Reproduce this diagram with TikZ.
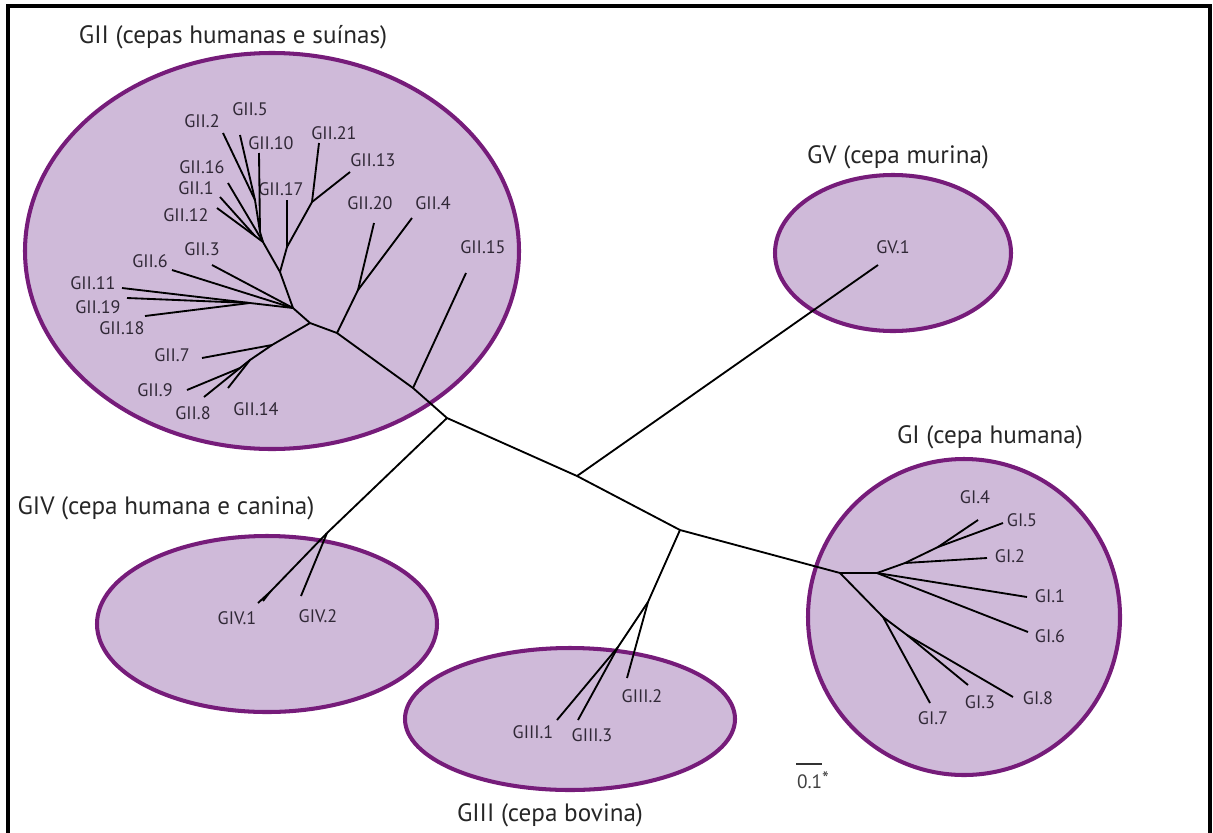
\documentclass[tikz,border=0pt]{standalone}
\usepackage{fontspec}
\setmainfont{PT Sans}
\usepackage{tikz}

\definecolor{grpfill}{RGB}{207,186,217}
\definecolor{grpline}{RGB}{118,28,122}
\definecolor{lbltext}{RGB}{48,40,54}

\tikzset{
  grupo/.style={draw=grpline, line width=2.3pt, fill=grpfill},
  ramo/.style={line width=1.05pt, black},
  folha/.style={font=\fontsize{10.3}{12}\selectfont, text=lbltext, inner sep=0pt},
  titulo/.style={font=\fontsize{14.3}{17}\selectfont, text=black!85, inner sep=0pt},
}

\begin{document}
\begin{tikzpicture}[x=0.02cm, y=-0.02cm]
        \useasboundingbox (0,0) rectangle (1213,832);                 %
        \draw [line width=2pt] (8,850) -- (8,6) -- (1210,6) -- (1210,850); %moldura

        % grupos
        \draw [grupo] (272,251) ellipse [x radius=247, y radius=198]; %GII
        \draw [grupo] (893,253) ellipse [x radius=118, y radius=78];  %GV
        \draw [grupo] (964,617) ellipse [x radius=156, y radius=158]; %GI
        \draw [grupo] (267,624) ellipse [x radius=170, y radius=88];  %GIV
        \draw [grupo] (570,719) ellipse [x radius=165, y radius=71];  %GIII

        \node [titulo] (tGII)  at (233,37)  {GII (cepas humanas e suínas)};
        \node [titulo] (tGV)   at (898,157) {GV (cepa murina)};
        \node [titulo] (tGI)   at (990,437) {GI (cepa humana)};
        \node [titulo] (tGIV)  at (166,508) {GIV (cepa humana e canina)};
        \node [titulo] (tGIII) at (550,815) {GIII (cepa bovina)};

        % tronco
        \coordinate (r0)   at (447,418);  %
        \coordinate (r15)  at (413,388);  %
        \coordinate (r20)  at (337,333);  %
        \coordinate (rA)   at (310,323);  %
        \coordinate (rV)   at (577,476);  %
        \coordinate (rIII) at (680,530);  %
        \coordinate (rIV)  at (327,533);  %
        \coordinate (rI)   at (840,573);  %
        \draw [ramo] (rA) -- (r20) -- (r15) -- (r0) -- (rV) -- (rIII) -- (rI);
        \draw [ramo] (r0) -- (rIV);

        % GV
        \coordinate (eV1) at (878,265);
        \node [folha] (GV1) at (893,247) {GV.1};
        \draw [ramo] (rV) -- (eV1);

        % GIV
        \coordinate (gIVa) at (270,592);
        \coordinate (eIV1) at (258,603);
        \coordinate (eIV1b) at (263,601);
        \coordinate (eIV2) at (301,596);
        \node [folha] (GIV1) at (237,618) {GIV.1};
        \node [folha] (GIV2) at (318,616) {GIV.2};
        \draw [ramo] (rIV) -- (gIVa) -- (eIV1);
        \draw [ramo] (gIVa) -- (eIV1b);
        \draw [ramo] (rIV) -- (eIV2);

        % GIII
        \coordinate (g3a) at (648,602);
        \coordinate (g3b) at (618,647);
        \coordinate (eIII1) at (557,720);
        \coordinate (eIII2) at (627,678);
        \coordinate (eIII3) at (578,720);
        \node [folha] (GIII1) at (533,732) {GIII.1};
        \node [folha] (GIII2) at (642,696) {GIII.2};
        \node [folha] (GIII3) at (592,735) {GIII.3};
        \draw [ramo] (rIII) -- (g3a) -- (eIII2);
        \draw [ramo] (g3a) -- (g3b) -- (eIII1);
        \draw [ramo] (g3b) -- (eIII3);

        % GI
        \coordinate (n1)  at (877,573);
        \coordinate (n1a) at (905,563);
        \coordinate (n1b) at (938,547);
        \coordinate (n2)  at (883,617);
        \coordinate (n2a) at (907,635);
        \coordinate (eI1) at (1027,597);
        \coordinate (eI2) at (987,558);
        \coordinate (eI3) at (968,685);
        \coordinate (eI4) at (978,520);
        \coordinate (eI5) at (1003,523);
        \coordinate (eI6) at (1028,632);
        \coordinate (eI7) at (930,703);
        \coordinate (eI8) at (1013,697);
        \node [folha] (GI1) at (1050,596) {GI.1};
        \node [folha] (GI2) at (1010,556) {GI.2};
        \node [folha] (GI3) at (980,702) {GI.3};
        \node [folha] (GI4) at (975,497) {GI.4};
        \node [folha] (GI5) at (1022,520) {GI.5};
        \node [folha] (GI6) at (1050,636) {GI.6};
        \node [folha] (GI7) at (933,718) {GI.7};
        \node [folha] (GI8) at (1038,698) {GI.8};
        \draw [ramo] (rI) -- (n1) -- (eI1);
        \draw [ramo] (n1) -- (eI6);
        \draw [ramo] (n1) -- (n1a) -- (eI2);
        \draw [ramo] (n1a) -- (n1b) -- (eI4);
        \draw [ramo] (n1b) -- (eI5);
        \draw [ramo] (rI) -- (n2) -- (eI7);
        \draw [ramo] (n2) -- (n2a) -- (eI8);
        \draw [ramo] (n2a) -- (eI3);

        % GII
        \coordinate (gF)  at (293,308);
        \coordinate (gG)  at (280,272);
        \coordinate (gG2) at (287,247);
        \coordinate (gG3) at (312,202);
        \coordinate (gH)  at (250,303);
        \coordinate (gI)  at (263,242);
        \coordinate (gK1) at (260,232);
        \coordinate (gK2) at (255,200);
        \coordinate (gL)  at (255,236);
        \coordinate (gB)  at (272,345);
        \coordinate (gC)  at (250,360);
        \coordinate (gE)  at (240,368);
        \coordinate (g20) at (358,290);
        \coordinate (eII1)  at (220,197);
        \coordinate (eII2)  at (223,133);
        \coordinate (eII3)  at (212,265);
        \coordinate (eII4)  at (412,218);
        \coordinate (eII5)  at (240,135);
        \coordinate (eII6)  at (172,270);
        \coordinate (eII7)  at (202,358);
        \coordinate (eII8)  at (204,397);
        \coordinate (eII9)  at (187,390);
        \coordinate (eII10) at (259,153);
        \coordinate (eII11) at (122,288);
        \coordinate (eII12) at (217,208);
        \coordinate (eII13) at (350,172);
        \coordinate (eII14) at (228,388);
        \coordinate (eII15) at (466,273);
        \coordinate (eII16) at (228,183);
        \coordinate (eII17) at (287,200);
        \coordinate (eII18) at (145,316);
        \coordinate (eII19) at (127,298);
        \coordinate (eII20) at (374,223);
        \coordinate (eII21) at (319,143);
        \node [folha] (GII1)  at (196,188) {GII.1};
        \node [folha] (GII2)  at (202,121) {GII.2};
        \node [folha] (GII3)  at (202,249) {GII.3};
        \node [folha] (GII4)  at (433,203) {GII.4};
        \node [folha] (GII5)  at (250,109) {GII.5};
        \node [folha] (GII6)  at (150,261) {GII.6};
        \node [folha] (GII7)  at (172,355) {GII.7};
        \node [folha] (GII8)  at (193,413) {GII.8};
        \node [folha] (GII9)  at (155,390) {GII.9};
        \node [folha] (GII10) at (271,143) {GII.10};
        \node [folha] (GII11) at (93,283)  {GII.11};
        \node [folha] (GII12) at (186,215) {GII.12};
        \node [folha] (GII13) at (373,160) {GII.13};
        \node [folha] (GII14) at (256,409) {GII.14};
        \node [folha] (GII15) at (483,247) {GII.15};
        \node [folha] (GII16) at (202,167) {GII.16};
        \node [folha] (GII17) at (281,189) {GII.17};
        \node [folha] (GII18) at (122,328) {GII.18};
        \node [folha] (GII19) at (98,307)  {GII.19};
        \node [folha] (GII20) at (370,203) {GII.20};
        \node [folha] (GII21) at (334,133) {GII.21};
        \draw [ramo] (r15) -- (eII15);
        \draw [ramo] (r20) -- (g20) -- (eII20);
        \draw [ramo] (g20) -- (eII4);
        \draw [ramo] (rA) -- (gB) -- (eII7);
        \draw [ramo] (gB) -- (gC) -- (eII14);
        \draw [ramo] (gC) -- (gE) -- (eII9);
        \draw [ramo] (gE) -- (eII8);
        \draw [ramo] (rA) -- (gF) -- (eII3);
        \draw [ramo] (gF) -- (eII6);
        \draw [ramo] (gF) -- (gH) -- (eII11);
        \draw [ramo] (gH) -- (eII19);
        \draw [ramo] (gH) -- (eII18);
        \draw [ramo] (gF) -- (gG) -- (gG2) -- (gG3) -- (eII21);
        \draw [ramo] (gG3) -- (eII13);
        \draw [ramo] (gG2) -- (eII17);
        \draw [ramo] (gG) -- (gI) -- (gK1) -- (gK2) -- (eII2);
        \draw [ramo] (gK2) -- (eII5);
        \draw [ramo] (gK1) -- (eII10);
        \draw [ramo] (gI) -- (eII16);
        \draw [ramo] (gI) -- (gL) -- (eII1);
        \draw [ramo] (gL) -- (eII12);

        % escala
        \coordinate (s0) at (796,764);
        \coordinate (s1) at (822,764);
        \draw [line width=1.1pt, black!80] (s0) -- (s1);
        \node [folha, font=\fontsize{11}{13}\selectfont, text=black!75] (escala) at (813,780) {0.1\raisebox{0.3ex}{*}};
\end{tikzpicture}
\end{document}
